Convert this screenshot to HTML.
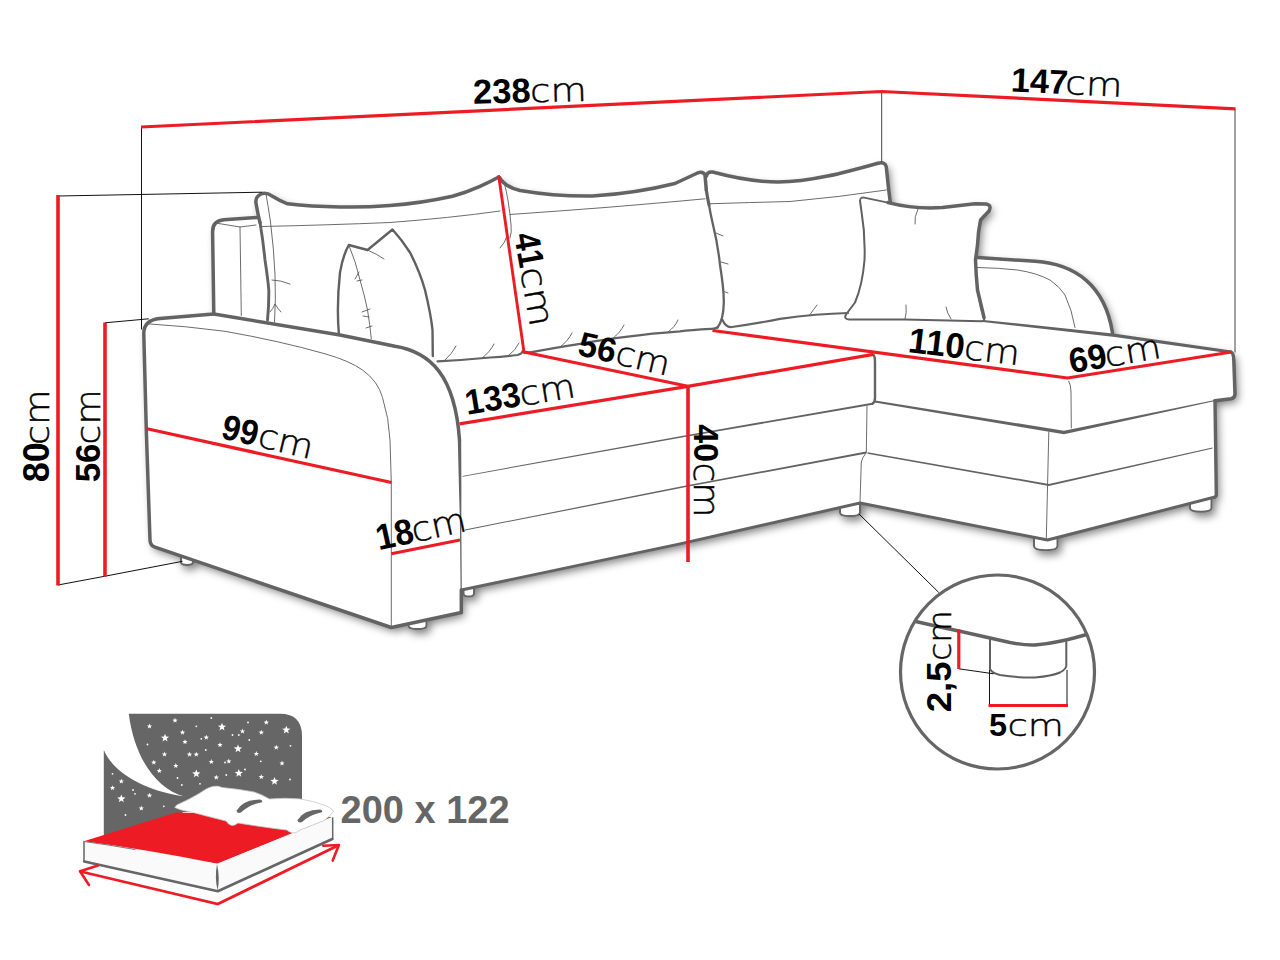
<!DOCTYPE html>
<html lang="en">
<head>
<meta charset="utf-8">
<title>Corner sofa dimensions</title>
<style>
html,body{margin:0;padding:0;background:#fff;}
body{width:1280px;height:960px;overflow:hidden;}
svg{display:block;}
.t{font-family:"Liberation Sans",Arial,sans-serif;fill:#000;}
.c{font-family:"DejaVu Sans","Liberation Sans",sans-serif;font-weight:200;stroke:#000;stroke-width:0.45;}
.b{font-weight:bold;}
.k{fill:none;stroke:#636363;stroke-width:3.5;stroke-linecap:round;stroke-linejoin:round;}
.m{fill:none;stroke:#606060;stroke-width:2;stroke-linecap:round;stroke-linejoin:round;}
.n{fill:none;stroke:#5a5a5a;stroke-width:0.9;stroke-linecap:round;stroke-linejoin:round;}
.r{fill:none;stroke:#ed1c24;stroke-width:3.2;stroke-linecap:butt;}
.h{fill:none;stroke:#111;stroke-width:1;}
.f{fill:#fff;stroke:#666;stroke-width:2;}
</style>
</head>
<body>
<svg width="1280" height="960" viewBox="0 0 1280 960">
<defs>
<filter id="sh" x="-5%" y="-5%" width="110%" height="112%">
<feGaussianBlur in="SourceAlpha" stdDeviation="4" result="b"/>
<feOffset in="b" dx="2.5" dy="4" result="o"/>
<feComponentTransfer in="o" result="s"><feFuncA type="linear" slope="0.5"/></feComponentTransfer>
<feMerge><feMergeNode in="s"/><feMergeNode in="SourceGraphic"/></feMerge>
</filter>
</defs>
<rect width="1280" height="960" fill="#fff"/>

<!-- body silhouette with drop shadow + feet -->
<g id="bodyshadow" filter="url(#sh)">
<path class="f" d="M181,556 L181,562.3 Q181,564.9 187.0,564.9 Q193,564.9 193,562.3 L193,556 Z"/>
<path class="f" d="M408.5,617 L408.5,625.5 Q408.5,629.1 417.5,629.1 Q426.5,629.1 426.5,625.5 L426.5,617 Z"/>
<path class="f" d="M463.5,586 L463.5,593.5 Q463.5,596.5 468.75,596.5 Q474,596.5 474,593.5 L474,586 Z"/>
<path class="f" d="M840,504 L840,512.5 Q840,516.1 850.0,516.1 Q860,516.1 860,512.5 L860,504 Z"/>
<path class="f" d="M1034,535 L1034,546 Q1034,550.2 1045.75,550.2 Q1057.5,550.2 1057.5,546 L1057.5,535 Z"/>
<path class="f" d="M1190,497 L1190,508 Q1190,511.8 1200.75,511.8 Q1211.5,511.8 1211.5,508 L1211.5,497 Z"/>
<path id="body" fill="#fff" d="M257,217.5 L224,219.8 Q212.3,220.8 212.6,232 L213.8,314 L160,318.5 Q143.5,320 143.8,334 L146.3,430 L150,540 Q150.2,545.5 155,547.2 L391.3,627.5 L461.3,612.5 L461.3,590 L680,543.8 L860,503 L1047.5,540 L1215,497 Q1216.5,496.5 1216.3,494 L1215,401 L1231,398.8 Q1235,398 1235,394 L1233.8,360 Q1233.5,353 1231,352 L1115,335.3 L1112.5,333 C1105,285 1075,264 1035,261.3 L977.5,257.5 L977.5,245 L980,220 L989,211 Q992,205 986,204 L975,203.8 L942.5,207.5 Q915,209 890,202.5 L888.5,188 L886.3,167 Q885.5,161.5 878,163.2 C845,172.5 810,182 778,182 C755,182 735,178 712.5,172 Q707,171.5 706.5,176 Q703,171 697.5,173 L675,183.5 Q635,193.5 592.5,196 Q555,196.5 520,190.5 Q505,187 499.5,177.5 L480,186.3 L452.5,196.3 Q420,203.5 390,205.5 Q365,207.5 340,207 Q310,206.5 287.5,203.8 Q280,201 272,196 Q266,192 261,194 Q255,197 256,203 Q258,215 257,217.5 Z"/>
</g>

<!-- thin detail lines -->
<g id="thin" class="n">
<!-- back frame -->
<path d="M218.5,223.5 L240,227 L256,225"/>
<path d="M240,227 L241.3,315.5"/>
<!-- left arm front face -->
<path d="M147.5,323.8 Q185,326 225,331.3 Q280,341 325,353.8 Q350,361 362.5,370 Q378,381 382.5,397.5 Q389,418 390,440 L391.3,482.5 L391.3,626"/>
<!-- left cushion piping -->
<path d="M262,226.5 Q330,225 390,222.5 Q450,218 500,211"/>
<path d="M266,194 Q268,205 270.5,222 Q274,250 275,275 Q276,300 274.5,322"/>
<path d="M272,280 Q280,280 290,284"/>
<path d="M270,312 Q273,309 275,304 Q278,309 281,312"/>
<!-- left cushion creases bottom -->
<path d="M445,360 Q452,354 456,346"/>
<path d="M482,358 Q490,352 494,344"/>
<path d="M508,356 Q516,350 519,343"/>
<path d="M500,248 Q505,243 507,236"/>
<!-- middle cushion -->
<path d="M510,214.5 Q560,211 605,207.5 Q660,203 705,198.8"/>
<path d="M504,182 Q509,200 511,225 Q512,232 510,238"/>
<path d="M560,347 Q568,341 572,333"/>
<path d="M612,339 Q620,333 624,325"/>
<path d="M668,332 Q675,327 678,320"/>
<path d="M716,233 L723,236"/>
<path d="M721,262 L728,264"/>
<path d="M723,291 L728,293"/>
<!-- third cushion -->
<path d="M708.8,203.8 Q750,202.5 790,201.5 Q840,197 886.3,190"/>
<path d="M810,314.5 Q814,309 817,305"/>
<!-- left pillow fold -->
<path d="M348.8,245 Q356,262 360,280 Q365,297 367.5,310 Q370,325 371.3,338.8"/>
<path d="M367.5,250 Q377,254 384,259"/>
<path d="M355,279 L359,272 M357,281 L362,280"/>
<path d="M362,312 L370,309 M363,316 L369,317"/>
<path d="M366,328 L372,326"/>
<!-- right pillow creases -->
<path d="M918,209 Q914,217 915,224"/>
<path d="M905,319 Q907,312 906,305"/>
<path d="M951,319 Q947,313 946,307"/>
<!-- right arm inner -->
<path d="M977.5,267.5 Q1000,268 1017.5,270 Q1037,273 1050,280 Q1060,287 1065,295 Q1072,310 1075,327.5"/>
<path d="M976,260 Q976,280 978,295 Q980,310 985,321"/>
<!-- corner verticals -->
<path d="M867,406.3 L866.3,452.5 Q862,458 861.3,462 L860,502.5"/>
<path d="M1068.8,381.3 Q1071,385 1071,392 L1071.3,428"/>
<path d="M1048.8,432 L1046.3,539"/>
</g>

<!-- medium lines -->
<g id="medium" class="m">
<!-- right pillow left+bottom -->
<path d="M984,317.5 Q985,321.5 981,321.3 L905,319.5 L849,319.5 Q843.5,319 846,314.5 L855,302.5 Q862.5,285 864.5,260 Q865.5,235 861.3,210 L860,201"/>
<!-- left pillow -->
<path d="M338.8,333 Q336.5,305 340,272.5 Q343,255 348.8,245 L367.5,250 L392.5,229.5 Q402,240 410,252.5 Q420,272 425,290 Q431,315 432.5,330 L432.8,356" stroke-width="2.4"/>
</g>

<g id="taper" fill="#636363" stroke="none">
<polygon points="462.6,476.7 686.1,436.8 872.7,404.8 872.3,402.8 685.9,435.2 462.4,475.9"/>
<polygon points="465.1,530.4 686.2,487.1 866.5,453.4 866.1,451.6 685.8,485.5 464.9,529.6"/>
<polygon points="867.4,453.8 1048.8,485.9 1212.6,448.4 1212.4,447.6 1048.8,484.1 867.6,452.2"/>
<polygon points="457.8,440.0 459.0,490.0 459.9,520.0 460.6,590.0 461.8,590.0 461.3,520.0 461.4,490.0 461.2,440.0"/>
<polygon points="874.8,402.5 1064.0,434.2 1215.1,401.1 1214.9,399.9 1064.0,430.8 875.2,400.5"/>
<polygon points="982.9,322.1 1114.8,336.9 1230.8,353.6 1231.2,350.4 1115.2,333.7 983.1,319.9"/>
</g>

<!-- thick outlines -->
<g id="thick" class="k">
<path d="M257,217.5 L224,219.8 Q212.3,220.8 212.6,232 L213.8,314 L160,318.5 Q143.5,320 143.8,334 L146.3,430 L150,540 Q150.2,545.5 155,547.2 L391.3,627.5 L461.3,612.5"/>
<path d="M213.8,314 L340,335 L395,346.3 C430,352 455,375 459.5,440"/>
<path d="M461.3,590 L461.3,612.5"/>
<path d="M461.3,590 L680,543.8 L860,503 L1047.5,540 L1215,497" stroke-width="2.9"/>
<path d="M1215,497 Q1216.5,496.5 1216.3,494 L1215,401" stroke-width="3.4"/>
<path d="M1215,400.8 L1231,398.8 Q1235,398 1235,394 L1233.8,360 Q1233.5,353 1231,352"/>
<path d="M977.5,257.5 L1035,261.3 C1075,264 1105,285 1112.5,333"/>
<!-- right pillow top + right -->
<path d="M860,201 Q860.2,197 864,197.6 L888,202.6" stroke-width="1.9"/>
<path d="M888,202.6 Q915,209.5 942.5,207.5 Q960,205.5 975,203.8 L986,204 Q992,205 989,211 L980.5,220 Q978,232 977.5,245 L975.5,260 Q976,275 977.5,290 L984,317.5"/>
<!-- third cushion -->
<path d="M706.5,176 Q707,171.5 712.5,172 C735,178 755,182 778,182 C810,182 845,172.5 878,163.2 Q885.5,161.5 886.3,167 L888.5,188 L890.3,202.5"/>
<path d="M722.5,320 Q726,328 732,327 Q760,323 780,318.8 Q817,313.8 848,313" stroke-width="2.2"/>
<!-- middle cushion -->
<path d="M499.5,177.5 Q505,187 520,190.5 Q555,196.5 592.5,196 Q635,193.5 675,183.5 L697.5,173 Q703,171 705,175 L706.3,190"/>
<path d="M706.3,190 Q707.5,198 709,205" stroke-width="3.2"/>
<path d="M709,205 Q710.5,214 712.5,222.5 Q718,245 720,265 Q724,290 723.8,302.5 Q723.5,320 717.5,327.5" stroke-width="2.3"/>
<path d="M717.5,327.5 Q715,329 711,328.8 Q690,330 680,331.3 Q650,333.5 630,336.3 Q600,340 580,343.8 Q550,348.5 530,352.5 L524.5,352.5" stroke-width="2.3"/>
<!-- left cushion -->
<path d="M498.8,177 Q490,182 480,186.3 Q466,192.5 452.5,196.3 Q420,203.5 390,205.5 Q365,207.5 340,207 Q310,206.5 287.5,203.8 Q280,201 272,196 Q266,192 261,194 Q255,197 256,203 Q258,215 260,222.5"/>
<path d="M260,222.5 Q263,240 265,260 Q268,280 268.8,290 Q269,305 267.5,320" stroke-width="2.9"/>
<path d="M437.5,361.3 Q465,360 490,357.5 Q505,356.5 517.5,355 Q522,354 522.5,351.3" stroke-width="2.2"/>
<!-- seat right end -->
<path d="M873.8,355 Q875,357 875,362 L875,398 Q875,402 872.5,403.8" stroke-width="2.4"/>
</g>

<!-- helper black lines -->
<g id="helpers" class="h">
<path d="M141.5,127 L141.5,329.5"/>
<path d="M58,196 L262,192.2"/>
<path d="M105,322.8 L148.8,318.8"/>
<path d="M58,585 L104.5,576.3 L182.5,561.3"/>
<path d="M881.7,92 L881.7,162" stroke="#444"/>
<path d="M1235,109 L1235,352.5" stroke="#444"/>
<path d="M858.8,513.8 L938.8,592.5"/>
</g>

<!-- red dimension lines -->
<g id="red" class="r">
<path d="M141,127 L881.5,91.5 L1235.5,108.8" stroke-linejoin="round"/>
<path d="M58,195 L58,585.5" stroke-width="3.6"/>
<path d="M105,322.5 L105,576.5" stroke-width="3.6"/>
<path d="M498.8,176.5 L524,352" stroke-width="2.9" stroke-linecap="round"/>
<path d="M524,352 L687.8,386.3" stroke-linecap="round"/>
<path d="M459.5,423.8 L687.8,386.3 L873.5,354.3"/>
<path d="M688,386 L688,562" stroke-width="3.6"/>
<path d="M712.5,330.5 L1067.5,378 L1231.5,352" stroke-linejoin="round"/>
<path d="M147,428.8 L391.5,482.5"/>
<path d="M391.3,553.8 L460,540"/>
</g>

<!-- circle detail -->
<g id="detail">
<clipPath id="cc"><circle cx="997.5" cy="672" r="96"/></clipPath>
<circle cx="997.5" cy="672" r="97" fill="#fff" stroke="#666" stroke-width="3.2"/>
<path class="m" stroke-width="2.6" fill="#fff" d="M990,638 L990,669 Q992,673 1000,675 Q1020,678 1035,677.5 Q1052,676 1060,672.5 Q1066,669 1066.3,666 L1066.3,640"/>
<path class="k" stroke-width="3.4" clip-path="url(#cc)" d="M905,619 Q935,626 960,631.3 Q985,637 1010,642.5 Q1025,645.5 1035,645 Q1048,644 1060,641.3 Q1075,638 1095,632"/>
<path class="h" d="M958.8,668.8 L993.8,673.8 M989.5,670 L989.5,705.5 M1067,670 L1067,705.5" stroke-width="0.9"/>
<path class="r" d="M958.8,629.5 L958.8,669" stroke-width="3"/>
<path class="r" d="M988.5,705.5 L1068,705.5" stroke-width="2.8"/>
</g>

<!-- labels -->
<g id="labels" class="t">
<g transform="translate(474.4,103.75) rotate(-1.45)"><text class="b" font-size="34.5" transform="translate(-1.04,0) scale(1.001,1)">238</text><text class="c" font-size="32.3" transform="translate(55.90,0) scale(1.151,1)">cm</text></g>
<g transform="translate(1012.5,91.5) rotate(2.7)"><text class="b" font-size="34" transform="translate(-2.06,0) scale(1.009,1)">147</text><text class="c" font-size="32.79" transform="translate(52.38,0) scale(1.143,1)">cm</text></g>
<g transform="translate(49,481.25) rotate(-90)"><text class="b" font-size="37" transform="translate(-1.08,0) scale(0.975,1)">80</text><text class="c" font-size="33.75" transform="translate(36.19,0) scale(1.084,1)">cm</text></g>
<g transform="translate(100,481.25) rotate(-90)"><text class="b" font-size="35.7" transform="translate(-1.05,0) scale(0.976,1)">56</text><text class="c" font-size="33.75" transform="translate(36.87,0) scale(1.071,1)">cm</text></g>
<g transform="translate(514,235.6) rotate(79.85)"><text class="b" font-size="36" transform="translate(-0.62,0) scale(0.865,1)">41</text><text class="c" font-size="34.71" transform="translate(34.05,0) scale(1.131,1)">cm</text></g>
<g transform="translate(577.5,355) rotate(13.05)"><text class="b" font-size="34.5" transform="translate(-1.02,0) scale(0.984,1)">56</text><text class="c" font-size="33.27" transform="translate(37.27,0) scale(1.084,1)">cm</text></g>
<g transform="translate(469,414.5) rotate(-9.25)"><text class="b" font-size="35" transform="translate(-2.01,0) scale(0.959,1)">133</text><text class="c" font-size="33.75" transform="translate(53.01,0) scale(1.095,1)">cm</text></g>
<g transform="translate(221.3,438.3) rotate(13.0)"><text class="b" font-size="35.4" transform="translate(-1.31,0) scale(0.924,1)">99</text><text class="c" font-size="33.75" transform="translate(35.84,0) scale(1.084,1)">cm</text></g>
<g transform="translate(380.8,549.7) rotate(-12.3)"><text class="b" font-size="36" transform="translate(-2.02,0) scale(0.937,1)">18</text><text class="c" font-size="34.23" transform="translate(33.95,0) scale(1.063,1)">cm</text></g>
<g transform="translate(694,425) rotate(90)"><text class="b" font-size="36" transform="translate(-0.68,0) scale(0.942,1)">40</text><text class="c" font-size="34.71" transform="translate(37.47,0) scale(1.040,1)">cm</text></g>
<g transform="translate(909.4,352.3) rotate(6.76)"><text class="b" font-size="35.5" transform="translate(-2.10,0) scale(0.985,1)">110</text><text class="c" font-size="33.75" transform="translate(53.93,0) scale(1.089,1)">cm</text></g>
<g transform="translate(1072.4,373.1) rotate(-9.68)"><text class="b" font-size="35" transform="translate(-1.36,0) scale(0.971,1)">69</text><text class="c" font-size="33.75" transform="translate(34.69,0) scale(1.104,1)">cm</text></g>
<g transform="translate(990,735.5)"><text class="b" font-size="31" transform="translate(-0.97,0) scale(1.048,1)">5</text><text class="c" font-size="30.86" transform="translate(17.41,0) scale(1.200,1)">cm</text></g>
<g transform="translate(950.5,711.25) rotate(-90)"><text class="b" font-size="34.6" transform="translate(-1.10,0) scale(1.059,1)">2,5</text><text class="c" font-size="31.82" transform="translate(50.17,0) scale(1.048,1)">cm</text></g>
</g>

<!-- bed icon -->
<g id="bed">
<path fill="#666" d="M103.8,750 C112,770 140,790 183.5,796.3 C155,788 134,756 128.8,713.8 H280 Q302,713.8 302,736 V812 H182.5 V835 H103.8 Z"/>
<g id="stars" fill="#fff">
<polygon points="222.0,722.7 223.1,725.5 226.1,725.7 223.7,727.6 224.5,730.5 222.0,728.8 219.5,730.5 220.3,727.6 217.9,725.7 220.9,725.5"/>
<polygon points="286.3,725.7 287.4,728.5 290.4,728.7 288.0,730.6 288.8,733.5 286.3,731.8 283.8,733.5 284.6,730.6 282.2,728.7 285.2,728.5"/>
<polygon points="165.0,733.7 166.1,736.5 169.1,736.7 166.7,738.6 167.5,741.5 165.0,739.8 162.5,741.5 163.3,738.6 160.9,736.7 163.9,736.5"/>
<polygon points="238.0,744.5 239.1,747.3 242.1,747.5 239.7,749.4 240.5,752.3 238.0,750.6 235.5,752.3 236.3,749.4 233.9,747.5 236.9,747.3"/>
<polygon points="196.3,769.5 197.4,772.3 200.4,772.5 198.0,774.4 198.8,777.3 196.3,775.6 193.8,777.3 194.6,774.4 192.2,772.5 195.2,772.3"/>
<polygon points="238.8,769.0 239.9,771.8 242.9,772.0 240.5,773.9 241.3,776.8 238.8,775.1 236.3,776.8 237.1,773.9 234.7,772.0 237.7,771.8"/>
<polygon points="274.5,777.0 275.6,779.8 278.6,780.0 276.2,781.9 277.0,784.8 274.5,783.1 272.0,784.8 272.8,781.9 270.4,780.0 273.4,779.8"/>
<polygon points="121.3,794.5 122.4,797.3 125.4,797.5 123.0,799.4 123.8,802.3 121.3,800.6 118.8,802.3 119.6,799.4 117.2,797.5 120.2,797.3"/>
<polygon points="149.5,723.6 150.2,725.4 152.1,725.5 150.6,726.7 151.1,728.5 149.5,727.4 147.9,728.5 148.4,726.7 146.9,725.5 148.8,725.4"/>
<polygon points="175.0,717.8 175.7,719.6 177.6,719.7 176.1,720.9 176.6,722.7 175.0,721.6 173.4,722.7 173.9,720.9 172.4,719.7 174.3,719.6"/>
<polygon points="266.3,719.8 267.0,721.6 268.9,721.7 267.4,722.9 267.9,724.7 266.3,723.6 264.7,724.7 265.2,722.9 263.7,721.7 265.6,721.6"/>
<polygon points="182.5,729.8 183.2,731.6 185.1,731.7 183.6,732.9 184.1,734.7 182.5,733.6 180.9,734.7 181.4,732.9 179.9,731.7 181.8,731.6"/>
<polygon points="242.5,728.6 243.2,730.4 245.1,730.5 243.6,731.7 244.1,733.5 242.5,732.4 240.9,733.5 241.4,731.7 239.9,730.5 241.8,730.4"/>
<polygon points="261.3,729.8 262.0,731.6 263.9,731.7 262.4,732.9 262.9,734.7 261.3,733.6 259.7,734.7 260.2,732.9 258.7,731.7 260.6,731.6"/>
<polygon points="185.0,739.3 185.7,741.1 187.6,741.2 186.1,742.4 186.6,744.2 185.0,743.1 183.4,744.2 183.9,742.4 182.4,741.2 184.3,741.1"/>
<polygon points="206.3,734.8 207.0,736.6 208.9,736.7 207.4,737.9 207.9,739.7 206.3,738.6 204.7,739.7 205.2,737.9 203.7,736.7 205.6,736.6"/>
<polygon points="220.0,742.3 220.7,744.1 222.6,744.2 221.1,745.4 221.6,747.2 220.0,746.1 218.4,747.2 218.9,745.4 217.4,744.2 219.3,744.1"/>
<polygon points="276.3,744.8 277.0,746.6 278.9,746.7 277.4,747.9 277.9,749.7 276.3,748.6 274.7,749.7 275.2,747.9 273.7,746.7 275.6,746.6"/>
<polygon points="164.5,751.6 165.2,753.4 167.1,753.5 165.6,754.7 166.1,756.5 164.5,755.4 162.9,756.5 163.4,754.7 161.9,753.5 163.8,753.4"/>
<polygon points="189.5,751.8 190.2,753.6 192.1,753.7 190.6,754.9 191.1,756.7 189.5,755.6 187.9,756.7 188.4,754.9 186.9,753.7 188.8,753.6"/>
<polygon points="196.3,751.8 197.0,753.6 198.9,753.7 197.4,754.9 197.9,756.7 196.3,755.6 194.7,756.7 195.2,754.9 193.7,753.7 195.6,753.6"/>
<polygon points="256.3,751.1 257.0,752.9 258.9,753.0 257.4,754.2 257.9,756.0 256.3,754.9 254.7,756.0 255.2,754.2 253.7,753.0 255.6,752.9"/>
<polygon points="153.8,759.8 154.5,761.6 156.4,761.7 154.9,762.9 155.4,764.7 153.8,763.6 152.2,764.7 152.7,762.9 151.2,761.7 153.1,761.6"/>
<polygon points="211.3,759.1 212.0,760.9 213.9,761.0 212.4,762.2 212.9,764.0 211.3,762.9 209.7,764.0 210.2,762.2 208.7,761.0 210.6,760.9"/>
<polygon points="228.8,758.6 229.5,760.4 231.4,760.5 229.9,761.7 230.4,763.5 228.8,762.4 227.2,763.5 227.7,761.7 226.2,760.5 228.1,760.4"/>
<polygon points="282.0,760.6 282.7,762.4 284.6,762.5 283.1,763.7 283.6,765.5 282.0,764.4 280.4,765.5 280.9,763.7 279.4,762.5 281.3,762.4"/>
<polygon points="175.8,763.1 176.5,764.9 178.4,765.0 176.9,766.2 177.4,768.0 175.8,766.9 174.2,768.0 174.7,766.2 173.2,765.0 175.1,764.9"/>
<polygon points="159.3,768.1 160.0,769.9 161.9,770.0 160.4,771.2 160.9,773.0 159.3,771.9 157.7,773.0 158.2,771.2 156.7,770.0 158.6,769.9"/>
<polygon points="216.3,774.8 217.0,776.6 218.9,776.7 217.4,777.9 217.9,779.7 216.3,778.6 214.7,779.7 215.2,777.9 213.7,776.7 215.6,776.6"/>
<polygon points="261.3,774.3 262.0,776.1 263.9,776.2 262.4,777.4 262.9,779.2 261.3,778.1 259.7,779.2 260.2,777.4 258.7,776.2 260.6,776.1"/>
<polygon points="121.3,778.6 122.0,780.4 123.9,780.5 122.4,781.7 122.9,783.5 121.3,782.4 119.7,783.5 120.2,781.7 118.7,780.5 120.6,780.4"/>
<polygon points="112.5,785.3 113.2,787.1 115.1,787.2 113.6,788.4 114.1,790.2 112.5,789.1 110.9,790.2 111.4,788.4 109.9,787.2 111.8,787.1"/>
<polygon points="149.5,792.8 150.2,794.6 152.1,794.7 150.6,795.9 151.1,797.7 149.5,796.6 147.9,797.7 148.4,795.9 146.9,794.7 148.8,794.6"/>
<polygon points="141.3,805.6 142.0,807.4 143.9,807.5 142.4,808.7 142.9,810.5 141.3,809.4 139.7,810.5 140.2,808.7 138.7,807.5 140.6,807.4"/>
<circle cx="211.3" cy="718" r="0.9"/>
<circle cx="196.3" cy="726.3" r="0.9"/>
<circle cx="248" cy="722.5" r="0.9"/>
<circle cx="201.3" cy="738.8" r="0.9"/>
<circle cx="232.5" cy="735" r="0.9"/>
<circle cx="238.8" cy="735" r="0.9"/>
<circle cx="249.3" cy="740" r="0.9"/>
<circle cx="147.5" cy="744.5" r="0.9"/>
<circle cx="290.5" cy="745.8" r="0.9"/>
<circle cx="205.8" cy="750" r="0.9"/>
<circle cx="225" cy="762.5" r="0.9"/>
<circle cx="260.8" cy="761.3" r="0.9"/>
<circle cx="245" cy="769.5" r="0.9"/>
<circle cx="226.3" cy="775" r="0.9"/>
<circle cx="177.5" cy="778" r="0.9"/>
<circle cx="290" cy="779.5" r="0.9"/>
<circle cx="200" cy="783.8" r="0.9"/>
<circle cx="181.8" cy="785" r="0.9"/>
<circle cx="112.5" cy="773.8" r="0.9"/>
<circle cx="135" cy="793.8" r="0.9"/>
<circle cx="125.5" cy="815" r="0.9"/>
<circle cx="163.8" cy="806.3" r="0.9"/>
<circle cx="133" cy="790" r="0.9"/>
</g>
<path fill="#ed1c24" d="M83.8,841.3 L176,812.5 L332,817 L217.3,863.8 Z"/>
<path fill="#fafafa" d="M83.8,841.3 Q150,850 217.3,863.8 L332.7,817 L332.7,838.8 L217.8,891.5 L83.8,861.3 Z"/>
<path fill="none" stroke="#666" stroke-width="2.6" stroke-linejoin="round" stroke-linecap="round" d="M84.3,861.5 L217.8,891.2 L332.3,839"/>
<path fill="none" stroke="#666" stroke-width="1.5" stroke-linecap="round" d="M84,841.5 L84,861.5 M332.7,818 L332.7,838.8"/>
<path fill="none" stroke="#777" stroke-width="1" stroke-linecap="round" d="M84,841.5 Q110,845 135,849.5"/>
<path fill="#666" d="M217,864 Q214.5,878 217.6,890.5 Q220.2,878 217,864 Z"/>
<!-- pillows -->
<path fill="#fff" stroke="#c8c8c8" stroke-width="0.8" stroke-linejoin="round" d="M174.8,807.5 Q176,804.5 180,803.5 Q190,799 200,793 Q207,787.5 213,786.4 Q218,785.5 222,787.5 Q238,789 253.8,791.9 Q262,794.5 269.4,799 Q285,797.5 300.6,799 Q313,801 324,805 Q330,807 333.8,811 Q330,816.5 324,820.6 Q312,825.5 300.6,829.8 Q297,833 292.8,833 Q289,832 286.6,830 Q278,829 269.4,827.8 Q253,825.5 238,823 Q235,825.5 231.9,825.5 Q228,824.5 226,821 Q208,816.5 191.3,812 Q181,810.5 174.8,807.5 Z"/>
<path fill="#666" d="M236.4,810.8 Q243,799.5 260,799.6 Q263,800.2 262,802.2 Q249,804.5 241,812.5 Q237.5,814 236.4,810.8 Z"/>
<path fill="#666" d="M297.3,820.2 Q304,809.5 320,809.6 Q323,810.2 322,812.2 Q310,814.5 302,822 Q298.5,823.5 297.3,820.2 Z"/>
<!-- arrows -->
<path fill="none" stroke="#ed1c24" stroke-width="2.8" stroke-linejoin="miter" d="M80.5,871.5 L217.8,904 L338.5,845.2"/>
<path fill="none" stroke="#ed1c24" stroke-width="2.6" stroke-linecap="round" stroke-linejoin="round" d="M98,865.5 L80,871.3 L89,885"/>
<path fill="none" stroke="#ed1c24" stroke-width="2.6" stroke-linecap="round" stroke-linejoin="round" d="M323.3,845.8 L338.9,845 L332.7,860.6"/>
<text class="t b" font-size="39" style="fill:#666" transform="translate(340.6,823) scale(0.974,1)">200 x 122</text>
</g>
</svg>
</body>
</html>
